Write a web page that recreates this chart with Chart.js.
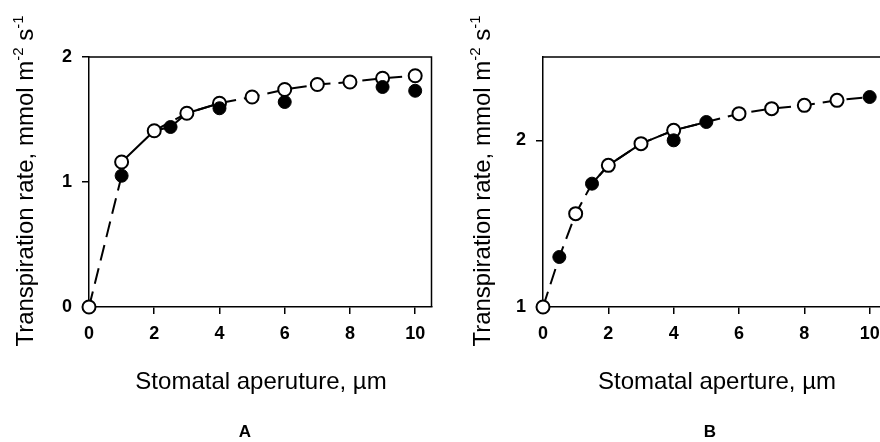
<!DOCTYPE html>
<html><head><meta charset="utf-8">
<script src="https://cdn.jsdelivr.net/npm/chart.js@4.4.1/dist/chart.umd.min.js"></script>
<style>
html,body{margin:0;padding:0;background:#fff;overflow:hidden;width:880px;height:442px}
#wrap{position:relative;width:880px;height:442px;overflow:hidden;background:#fff}
canvas{position:absolute;top:0}
#cA{left:0}
#cB{left:440px}
</style></head><body>
<div id="wrap"><canvas id="cA" width="440" height="442"></canvas><canvas id="cB" width="460" height="442"></canvas></div>
<script>
// ---------- data ----------
const xTicks = [0, 2, 4, 6, 8, 10];
const yTicksA = [0, 1, 2];
const yTicksB = [1, 2];

// Panel A
const openXA   = [0, 1, 2, 3, 4, 5, 6, 7, 8, 9, 10];
const openYA   = [0, 1.16, 1.41, 1.55, 1.63, 1.68, 1.74, 1.78, 1.80, 1.83, 1.85];
const filledXA = [1, 2.5, 4, 6, 9, 10];
const filledYA = [1.05, 1.44, 1.59, 1.64, 1.76, 1.73];
const dashXA   = [0, 1, 1.5, 2, 3, 4, 5, 6, 7, 8, 9, 10];
const dashYA   = [0, 1.05, null, 1.41, 1.55, 1.63, 1.68, 1.74, 1.78, 1.80, 1.83, 1.85];
const solidXA  = [1, 2, 2.5, 3, 4];
const solidYA  = [1.16, 1.41, 1.44, 1.55, 1.63];

// Panel B
const openXB   = [0, 1, 2, 3, 4, 6, 7, 8, 9];
const openYB   = [1, 1.56, 1.85, 1.98, 2.06, 2.16, 2.19, 2.21, 2.24];
const filledXB = [0.5, 1.5, 4, 5, 10];
const filledYB = [1.30, 1.74, 2.00, 2.11, 2.26];
const dashXB   = [0, 0.5, 1, 1.5, 2, 3, 4, 5, 6, 7, 8, 9, 10];
const dashYB   = [1, 1.30, 1.56, 1.74, 1.85, 1.98, 2.06, 2.11, 2.16, 2.19, 2.21, 2.24, 2.26];
const solidXB  = [1.5, 2, 3, 4, 5];
const solidYB  = [1.74, 1.85, 1.98, 2.06, 2.11];

const xTitleA = 'Stomatal aperuture, \u00b5m';
const xTitleB = 'Stomatal aperture, \u00b5m';
const yTitleParts = [['Transpiration rate, mmol m', false], ['-2', true], [' s', false], ['-1', true]];

// ---------- helpers ----------
const FONT = '"Liberation Sans", Arial, Helvetica, sans-serif';
const pts = (xs, ys) => xs.map((x, i) => ({x, y: ys[i]}));

const textPlugin = {
  id: 'texts',
  beforeDatasetsDraw(chart, args, o) {
    const {ctx, chartArea: a} = chart;
    ctx.save();
    ctx.strokeStyle = '#000'; ctx.lineWidth = 1.5;
    ctx.beginPath();
    ctx.moveTo(a.left, a.top); ctx.lineTo(a.right, a.top); ctx.lineTo(a.right, a.bottom);
    ctx.stroke();
    ctx.restore();
  },
  afterDraw(chart, args, o) {
    const {ctx} = chart;
    ctx.save();
    ctx.fillStyle = '#000';
    ctx.textAlign = 'center'; ctx.textBaseline = 'middle';
    ctx.font = '24px ' + FONT;
    ctx.fillText(o.xTitle, o.xTitleX, o.xTitleY);
    ctx.font = 'bold 17px ' + FONT;
    ctx.fillText(o.panel, o.panelX, o.panelY);
    // rotated y title with superscripts
    ctx.translate(o.yTitleX, o.yTitleY);
    ctx.rotate(-Math.PI / 2);
    ctx.textAlign = 'left'; ctx.textBaseline = 'alphabetic';
    const big = '24px ' + FONT, small = '15px ' + FONT;
    let total = 0;
    yTitleParts.forEach(([t, sup]) => { ctx.font = sup ? small : big; total += ctx.measureText(t).width; });
    let x = -total / 2;
    yTitleParts.forEach(([t, sup]) => {
      ctx.font = sup ? small : big;
      ctx.fillText(t, x, sup ? -10 : 0);
      x += ctx.measureText(t).width;
    });
    ctx.restore();
  }
};

function scales(yMin, yMax, yTicks, yWidth) {
  const tickFont = {family: FONT, size: 18, weight: 'bold'};
  const grid = {display: true, drawOnChartArea: false, drawTicks: true, tickLength: 7, color: '#000', lineWidth: 1.5};
  const border = {display: true, color: '#000', width: 1.5};
  return {
    x: {
      type: 'linear', min: 0, max: 10.5,
      afterBuildTicks: s => { s.ticks = xTicks.map(v => ({value: v})); },
      afterFit: s => { s.height = 135; },
      grid, border,
      ticks: {color: '#000', font: tickFont, padding: 9, maxRotation: 0, autoSkip: false}
    },
    y: {
      type: 'linear', min: yMin, max: yMax,
      afterBuildTicks: s => { s.ticks = yTicks.map(v => ({value: v})); },
      afterFit: s => { s.width = yWidth; },
      grid, border,
      ticks: {color: '#000', font: tickFont, padding: 10, autoSkip: false}
    }
  };
}

function datasets(oX, oY, fX, fY, dX, dY, sX, sY) {
  return [
    {data: pts(fX, fY), showLine: false, pointRadius: 6.5, pointBackgroundColor: '#000', pointBorderColor: '#000', pointBorderWidth: 1, clip: false},
    {data: pts(oX, oY), showLine: false, pointRadius: 6.5, pointBackgroundColor: '#fff', pointBorderColor: '#000', pointBorderWidth: 2, clip: false},
    {data: pts(sX, sY), showLine: true, pointRadius: 0, borderColor: '#000', borderWidth: 2, clip: false},
    {data: pts(dX, dY), showLine: true, spanGaps: false, pointRadius: 0, borderColor: '#000', borderWidth: 2, borderDash: [16, 8], clip: false}
  ];
}

function make(id, cfg) {
  return new Chart(document.getElementById(id), {
    type: 'scatter',
    data: {datasets: cfg.datasets},
    options: {
      responsive: false, animation: false, devicePixelRatio: 1,
      layout: {padding: {left: 0, top: 57, right: cfg.right, bottom: 0}},
      plugins: {legend: {display: false}, tooltip: {enabled: false}, texts: cfg.texts},
      scales: cfg.scales,
      elements: {line: {tension: 0}}
    },
    plugins: [textPlugin]
  });
}

make('cA', {
  datasets: datasets(openXA, openYA, filledXA, filledYA, dashXA, dashYA, solidXA, solidYA),
  scales: scales(0, 2, yTicksA, 89),
  right: 8,
  texts: {xTitle: xTitleA, xTitleX: 261, xTitleY: 382, panel: 'A', panelX: 245, panelY: 432, yTitleX: 33, yTitleY: 181}
});
make('cB', {
  datasets: datasets(openXB, openYB, filledXB, filledYB, dashXB, dashYB, solidXB, solidYB),
  scales: scales(1, 2.5, yTicksB, 103),
  right: 14,
  texts: {xTitle: xTitleB, xTitleX: 277, xTitleY: 382, panel: 'B', panelX: 270, panelY: 432, yTitleX: 50, yTitleY: 181}
});
</script>
</body></html>
